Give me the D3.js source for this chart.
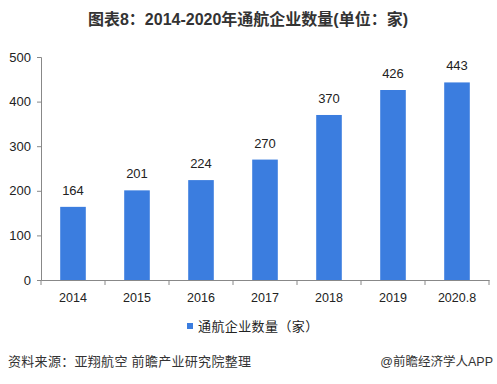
<!DOCTYPE html>
<html><head><meta charset="utf-8">
<script src="https://cdn.jsdelivr.net/npm/d3@7"></script>
<style>body{margin:0;background:#fff}svg{display:block}</style>
</head><body><svg id="c" width="497" height="384"></svg>
<script>
const categories = ["2014","2015","2016","2017","2018","2019","2020.8"];
const values = [164,201,224,270,370,426,443];
const yTicks = [0,100,200,300,400,500];
const title = "图表8：2014-2020年通航企业数量(单位：家)";
const seriesName = "通航企业数量（家）";
const source = "资料来源：亚翔航空 前瞻产业研究院整理";
const credit = "@前瞻经济学人APP";

const svg = d3.select("#c");
const font = "Arial, 'Liberation Sans', 'Noto Sans CJK SC', sans-serif";
const mLeft = 41, mRight = 489, mTop = 57, mBottom = 280;
const x = d3.scaleBand().domain(categories).range([mLeft, mRight]).paddingInner(0.6).paddingOuter(0.3);
const y = d3.scaleLinear().domain([0,500]).range([mBottom, mTop]);

svg.append("text").attr("x",248).attr("y",25).attr("text-anchor","middle")
  .attr("font-family",font).attr("font-weight","bold").attr("font-size",16).attr("fill","#333").text(title);

const ya = svg.append("g").attr("transform",`translate(${mLeft},0)`)
  .call(d3.axisLeft(y).tickValues(yTicks).tickSize(4).tickPadding(6));
ya.select(".domain").attr("stroke","#888");
ya.selectAll("line").attr("stroke","#888");
ya.selectAll("text").attr("font-family",font).attr("font-size",13).attr("fill","#222");

const xa = svg.append("g").attr("transform",`translate(0,${mBottom})`)
  .call(d3.axisBottom(x).tickSize(0).tickPadding(13));
xa.select(".domain").attr("stroke","#888");
xa.selectAll("text").attr("font-family",font).attr("font-size",12.5).attr("fill","#222");
const bounds = d3.range(categories.length+1).map(i => mLeft + i*(mRight-mLeft)/categories.length);
svg.append("g").selectAll("line").data(bounds).join("line")
  .attr("x1",d=>d).attr("x2",d=>d).attr("y1",mBottom).attr("y2",mBottom+5).attr("stroke","#888");

svg.append("g").selectAll("rect").data(values).join("rect")
  .attr("x",(d,i)=>x(categories[i])).attr("width",x.bandwidth())
  .attr("y",d=>y(d)).attr("height",d=>mBottom-y(d)).attr("fill","#3b7ddf");

svg.append("g").selectAll("text").data(values).join("text")
  .attr("x",(d,i)=>x(categories[i])+x.bandwidth()/2).attr("y",d=>y(d)-12)
  .attr("text-anchor","middle").attr("font-family",font).attr("font-size",13).attr("fill","#222").text(d=>d);

svg.append("rect").attr("x",187).attr("y",323).attr("width",6).attr("height",6).attr("fill","#3b7ddf");
svg.append("text").attr("x",198).attr("y",331).attr("font-family",font).attr("font-size",13).attr("letter-spacing",0.4).attr("fill","#222").text(seriesName);

svg.append("text").attr("x",8).attr("y",366).attr("font-family",font).attr("font-size",13).attr("letter-spacing",0.3).attr("fill","#333").text(source);
svg.append("text").attr("x",493).attr("y",366).attr("text-anchor","end").attr("font-family",font).attr("font-size",12.5).attr("fill","#333").text(credit);
</script></body></html>
